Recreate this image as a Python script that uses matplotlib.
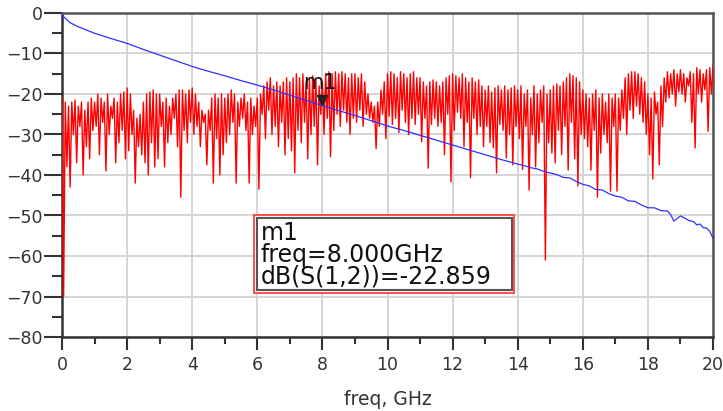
import numpy as np
import matplotlib
matplotlib.use("Agg")
import matplotlib.pyplot as plt
from matplotlib.patches import Rectangle
import matplotlib.transforms as mtransforms

# ---------------- data ----------------
# S(1,2) (blue) in dB
blue_freq = [0.0, 0.1, 0.25, 0.5, 1.0, 1.5, 2.0, 2.5, 3.0, 3.5, 4.0, 4.5, 5.0, 5.5, 6.0,
             6.5, 7.0, 7.5, 8.0, 8.5, 9.0, 9.5, 10.0, 10.5, 11.0, 11.5, 12.0, 12.5, 13.0,
             13.5, 14.0, 14.2, 14.4, 14.6, 14.8, 15.0, 15.2, 15.4, 15.6, 15.8, 16.0, 16.2,
             16.4, 16.6, 16.8, 17.0, 17.2, 17.4, 17.6, 17.8, 18.0, 18.2, 18.4, 18.6, 18.7,
             18.8, 19.0, 19.1, 19.25, 19.4, 19.5, 19.6, 19.7, 19.8, 19.9, 20.0]
blue_db = [-0.5, -1.3, -2.4, -3.4, -5.0, -6.3, -7.5, -9.0, -10.4, -11.8, -13.2, -14.4, -15.5,
           -16.7, -17.8, -19.0, -20.3, -21.6, -22.86, -24.1, -25.3, -26.6, -27.9, -29.0, -30.2,
           -31.4, -32.6, -33.8, -35.0, -36.2, -37.3, -37.7, -38.2, -38.5, -39.1, -39.5, -39.9,
           -40.6, -40.7, -41.6, -42.3, -42.7, -43.6, -43.7, -44.6, -45.2, -45.5, -46.4, -46.5,
           -47.4, -48.1, -48.1, -48.8, -48.9, -49.8, -51.4, -50.1, -50.5, -51.2, -51.5, -52.3,
           -52.1, -53.0, -53.1, -53.9, -55.6]

# S(1,1) (red) in dB: local maxima at f = 0.1*k, local minima at f = 0.1*k + 0.05
red_peaks = [
    -21, -22, -23, -22, -21.5, -23, -22, -24, -22, -21,          # 0-1 GHz
    -22, -20, -21, -22, -20, -23, -21, -22, -20, -19.5,          # 1-2
    -18.5, -20, -24, -26, -25, -22, -20, -19.5, -19, -20,        # 2-3
    -20, -22, -21, -23, -21, -20, -19, -19, -20, -19,            # 3-4
    -18.5, -20, -22, -24, -25, -24, -21, -20, -21, -20,          # 4-5
    -21, -20, -19, -20, -22, -21, -20, -22, -21, -23,            # 5-6
    -21, -20, -18, -17, -16, -18, -17, -18, -17, -16,            # 6-7
    -17, -16, -15, -16, -15, -17, -16, -15.5, -16, -18,          # 7-8
    -17, -15, -14.5, -15, -14.5, -15, -14.5, -15, -16, -15,      # 8-9
    -15, -16, -15, -17, -20, -22, -23, -22, -19, -17,            # 9-10
    -15, -14.5, -15, -16, -14.5, -15, -16, -15, -14.5, -16,      # 10-11
    -16, -17, -18, -17, -16.5, -17, -18, -17, -16, -15.5,        # 11-12
    -15, -15.5, -16, -15, -16, -17, -16, -17, -16.5, -18,        # 12-13
    -19, -18, -19.5, -18.5, -18, -19, -18, -19, -18.5, -18,      # 13-14
    -19, -18, -20, -19, -21, -18, -20, -19, -18, -20,            # 14-15
    -19, -18, -17.5, -18, -17, -16, -15, -15.5, -16, -17,        # 15-16
    -19, -20, -21, -20, -19, -21, -20, -22, -20, -21,            # 16-17
    -20, -21, -19, -16, -15, -14.5, -14.5, -15, -16, -17,        # 17-18
    -20, -21, -19.5, -22, -18, -16, -14.5, -15, -14, -15,        # 18-19
    -14, -15, -16, -14.5, -15, -13.5, -14, -15, -14, -13.5,      # 19-20
]
red_dips = [
    -70, -38, -43, -30, -37, -28, -40, -33, -36, -29,            # 0-1 GHz
    -28, -35, -27, -39, -30, -26, -37, -32, -29, -36,            # 1-2
    -34, -30, -42, -33, -35, -37, -40, -32, -38, -36,            # 2-3
    -28, -38, -32, -30, -26, -33, -45.5, -29, -32, -27,          # 3-4
    -30, -28, -33, -27, -37.5, -29, -42, -31, -40, -35,          # 4-5
    -32, -30, -27, -42, -28, -26, -29, -42, -30, -28,            # 5-6
    -43.5, -25, -31, -24, -30, -28, -33, -27, -35, -31,          # 6-7
    -34, -39.5, -29, -32, -27, -36, -30, -28, -37.5, -25,        # 7-8
    -30, -26, -35.5, -29, -25, -28, -24, -27, -30, -26,          # 8-9
    -27, -24, -28, -25, -26, -27, -33.5, -28, -25, -31,          # 9-10
    -25.5, -27.5, -26, -29.5, -24, -27, -30, -26, -27.5, -25,    # 10-11
    -31.8, -26, -38.3, -27.5, -26, -28, -27, -35, -25, -41.7,    # 11-12
    -29, -24.5, -26, -33, -27, -40.7, -26, -30, -28, -33,        # 12-13
    -28, -32, -33.3, -39.5, -27.5, -29, -35.8, -30, -37.5, -28,  # 13-14
    -31, -38.6, -28, -43.7, -30, -38, -32, -27, -61, -32,        # 14-15
    -34.6, -37, -29, -35, -28, -38.8, -27, -36, -42.7, -30,      # 15-16
    -31, -33, -38.8, -29, -45.5, -34.6, -30, -32, -44, -28,      # 16-17
    -44, -29, -26, -30, -24, -26, -23, -25, -27, -30,            # 17-18
    -35, -41, -25, -37.5, -28, -22, -21, -20, -23, -19.5,        # 18-19
    -20, -22, -18, -27, -33.3, -20, -22, -19, -29.2, -20,        # 19-20
]
red_end = -13.0

marker_freq = 8.0
marker_db = -22.859
marker_lines = ["m1", "freq=8.000GHz", "dB(S(1,2))=-22.859"]

x_ticks = [0, 2, 4, 6, 8, 10, 12, 14, 16, 18, 20]
y_ticks = [-80, -70, -60, -50, -40, -30, -20, -10, 0]
x_label = "freq, GHz"

# --------------- build red series ---------------
red_f = []
red_v = []
for k in range(len(red_peaks)):
    red_f.append(0.1 * k)
    red_v.append(red_peaks[k])
    red_f.append(0.1 * k + 0.05)
    red_v.append(red_dips[k])
red_f.append(20.0)
red_v.append(red_end)

# --------------- plot ---------------
plt.rcParams['font.family'] = ['DejaVu Sans']
fig = plt.figure(figsize=(7.23, 4.11), dpi=100)
ax = fig.add_axes([62 / 723, 1 - 337 / 411, 651 / 723, 324 / 411])

txt_col = '#333333'
ax.plot(red_f, red_v, color='#ff0000', lw=1.0, zorder=3)
ax.plot(blue_freq, blue_db, color='#3030ff', lw=0.9, zorder=4)

ax.set_xlim(0, 20)
ax.set_ylim(-80, 0)
ax.set_xticks(x_ticks)
ax.set_yticks(y_ticks)
ax.set_xticks(np.arange(1, 20, 2), minor=True)
ax.set_yticks(np.arange(-75, 0, 10), minor=True)
ax.grid(True, which='major', color='#d2d2d2', lw=1.3, zorder=0)
ax.set_axisbelow(True)

ax.tick_params(axis='y', which='major', length=13, width=1.5, color='#333333',
               labelsize=12.5, labelcolor=txt_col, pad=1)
ax.tick_params(axis='y', which='minor', length=7, width=1.5, color='#333333')
ax.tick_params(axis='x', which='major', length=9, width=1.5, color='#333333',
               labelsize=12.5, labelcolor=txt_col, pad=5)
ax.tick_params(axis='x', which='minor', length=5, width=1.5, color='#333333')

for side in ['left', 'bottom']:
    ax.spines[side].set_color('#333333')
    ax.spines[side].set_linewidth(1.8)
for side in ['top', 'right']:
    ax.spines[side].set_color('#555555')
    ax.spines[side].set_linewidth(1.8)

ax.set_xlabel(x_label, fontsize=13.5, color=txt_col, labelpad=11)

# marker m1
off = mtransforms.offset_copy(ax.transData, fig=fig, x=0, y=4, units='points')
ax.plot([marker_freq], [marker_db], marker='v', color='#222222', markersize=7,
        transform=off, zorder=6, ls='none')
ax.text(marker_freq - 0.6, -17.3, marker_lines[0], fontsize=15, color='#111111',
        va='center', ha='left', zorder=6)

# readout box
box = Rectangle((5.9, -69.1), 8.0, 19.2, facecolor='white', edgecolor='#ff3030',
                lw=1.2, zorder=7)
ax.add_patch(box)
inner = Rectangle((5.99, -68.5), 7.82, 18.0, facecolor='none', edgecolor='#555555',
                  lw=1.5, zorder=8)
ax.add_patch(inner)
for line, yv in zip(marker_lines, [-54.2, -59.7, -65.1]):
    ax.text(6.1, yv, line, fontsize=17, color='#111111', va='center', ha='left',
            zorder=9)

fig.savefig("out.png", dpi=100)
